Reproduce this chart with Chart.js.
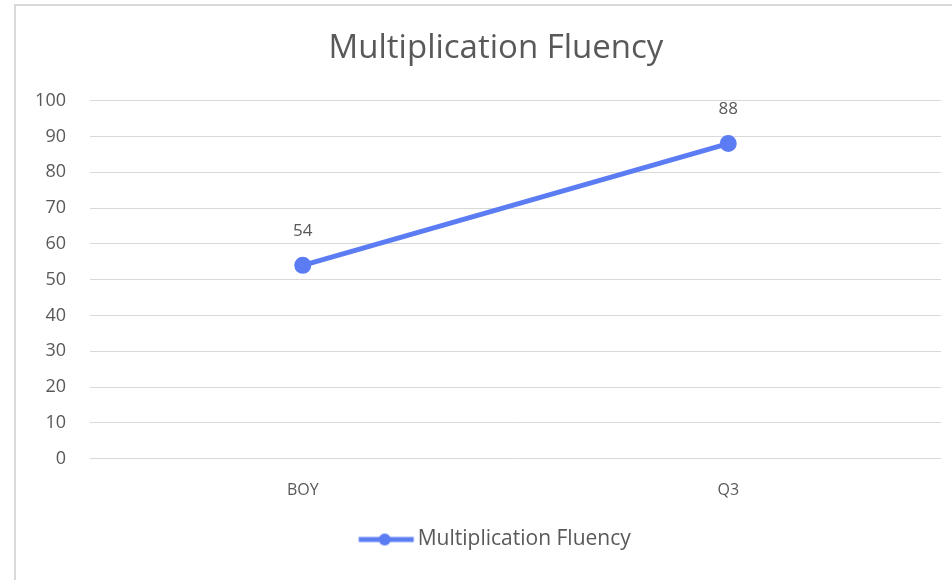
<!DOCTYPE html>
<html>
<head>
<meta charset="utf-8">
<script src="https://cdn.jsdelivr.net/npm/chart.js@4"></script>
<style>
  html, body { margin: 0; padding: 0; background: #fff; overflow: hidden; width: 952px; height: 580px; }
  #frame {
    position: absolute; left: 14px; top: 4px; right: -10px; bottom: -10px;
    border-left: 2px solid #d9d9d9; border-top: 2px solid #d9d9d9;
  }
  #wrap { position: absolute; left: 0; top: 0; width: 952px; height: 580px; }
</style>
</head>
<body>
<div id="frame"></div>
<div id="wrap"><canvas id="chart"></canvas></div>
<script>
// 数据
const categories = ['BOY', 'Q3'];
const fluencyValues = [54, 88];
const seriesName = 'Multiplication Fluency';
const yTicks = [0, 10, 20, 30, 40, 50, 60, 70, 80, 90, 100];

const lineColor = '#5b7cf3';
const textColor = '#595959';
const fontFamily = '"Open Sans", "Noto Sans", sans-serif';

// 图例图标：线 + 圆点
function makeLegendIcon() {
    const c = document.createElement('canvas');
    c.width = 80; c.height = 14;
    const g = c.getContext('2d');
    g.strokeStyle = lineColor;
    g.lineWidth = 5;
    g.beginPath(); g.moveTo(14.5, 7); g.lineTo(69.5, 7); g.stroke();
    g.fillStyle = lineColor;
    g.beginPath(); g.arc(40.5, 7, 6, 0, Math.PI * 2); g.fill();
    return c;
}

// 标题和图例的中心移到 x≈496
const shiftBlocks = {
    id: 'shiftBlocks',
    afterLayout(chart) {
        if (chart.titleBlock) chart.titleBlock.left += 47;
        if (chart.legend) chart.legend.left += 47;
    }
};

// 数据标签
const valueLabels = {
    id: 'valueLabels',
    afterDatasetsDraw(chart) {
        const ctx = chart.ctx;
        const meta = chart.getDatasetMeta(0);
        const data = chart.data.datasets[0].data;
        ctx.save();
        ctx.fillStyle = textColor;
        ctx.font = '17px ' + fontFamily;
        ctx.textAlign = 'center';
        ctx.textBaseline = 'middle';
        meta.data.forEach((pt, i) => {
            ctx.fillText(String(data[i]), pt.x, pt.y - 34);
        });
        ctx.restore();
    }
};

const ctx = document.getElementById('chart').getContext('2d');
new Chart(ctx, {
    type: 'line',
    data: {
        labels: categories,
        datasets: [{
            label: seriesName,
            data: fluencyValues,
            borderColor: lineColor,
            backgroundColor: lineColor,
            borderWidth: 5,
            pointRadius: 6,
            pointHoverRadius: 6,
            tension: 0
        }]
    },
    options: {
        responsive: true,
        maintainAspectRatio: false,
        animation: false,
        layout: { padding: { left: 0, right: 7, top: 0, bottom: 20 } },
        plugins: {
            title: {
                display: true,
                text: seriesName,
                color: textColor,
                font: { family: fontFamily, size: 33, weight: 'normal' },
                padding: { top: 29, bottom: 32 }
            },
            legend: {
                position: 'bottom',
                labels: {
                    color: textColor,
                    font: { family: fontFamily, size: 21 },
                    usePointStyle: true,
                    pointStyleWidth: 46,
                    pointStyle: makeLegendIcon(),
                    padding: 7
                }
            },
            tooltip: { enabled: false }
        },
        scales: {
            x: {
                offset: true,
                grid: { display: false, drawTicks: false },
                border: { display: false },
                ticks: { color: textColor, font: { family: fontFamily, size: 16 }, padding: 22 }
            },
            y: {
                min: 0,
                max: 100,
                afterBuildTicks(axis) { axis.ticks = yTicks.map(v => ({ value: v })); },
                grid: { color: '#d9d9d9', lineWidth: 1, drawTicks: false },
                border: { display: false },
                ticks: { color: textColor, font: { family: fontFamily, size: 18 }, padding: 24 },
                afterFit(axis) { axis.width = 90; }
            }
        }
    },
    plugins: [shiftBlocks, valueLabels]
});
</script>
</body>
</html>
